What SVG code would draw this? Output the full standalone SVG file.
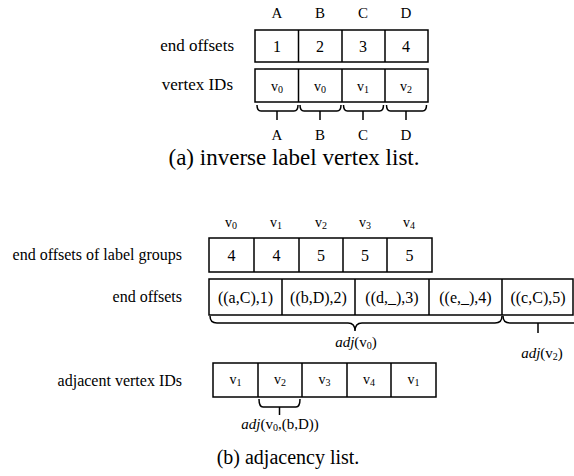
<svg xmlns="http://www.w3.org/2000/svg" width="574" height="476" viewBox="0 0 574 476" font-family="'Liberation Serif', 'Times New Roman', serif">
<style>
text, tspan { font-family: "Liberation Serif", "Times New Roman", serif; fill: #000; }
.lbl { font-size: 16px; text-anchor: end; }
.lbla { font-size: 17px; text-anchor: end; }
.cell { font-size: 16px; text-anchor: middle; }
.hdr { font-size: 15px; text-anchor: middle; }
.vv { font-size: 14px; text-anchor: middle; }
.sub { font-size: 10px; }
.capa { font-size: 23px; text-anchor: middle; }
.capb { font-size: 20px; text-anchor: middle; }
.adj { font-size: 15px; text-anchor: middle; }
.box { fill: #fff; stroke: #000; stroke-width: 1.5; }
.br { fill: none; stroke: #000; stroke-width: 1.5; }
</style>
<rect width="574" height="476" fill="#fff"/>

<g id="a-headers">
<text class="hdr" x="277" y="18">A</text>
<text class="hdr" x="320" y="18">B</text>
<text class="hdr" x="363" y="18">C</text>
<text class="hdr" x="406" y="18">D</text>
</g>
<g id="a-end-offsets">
<text class="lbla" x="234" y="51">end offsets</text>
<rect class="box" x="255" y="30" width="173" height="32"/>
<path class="br" d="M298.5,30V62M342,30V62M385,30V62"/>
<text class="cell" x="277" y="52">1</text>
<text class="cell" x="320" y="52">2</text>
<text class="cell" x="363" y="52">3</text>
<text class="cell" x="406" y="52">4</text>
</g>
<g id="a-vertex-ids">
<text class="lbla" x="233" y="90">vertex IDs</text>
<rect class="box" x="255" y="69" width="173" height="33"/>
<path class="br" d="M298.5,69V102M342,69V102M385,69V102"/>
<text class="vv" x="277" y="91">v<tspan class="sub" dy="2">0</tspan></text>
<text class="vv" x="320" y="91">v<tspan class="sub" dy="2">0</tspan></text>
<text class="vv" x="363" y="91">v<tspan class="sub" dy="2">1</tspan></text>
<text class="vv" x="406" y="91">v<tspan class="sub" dy="2">2</tspan></text>
</g>
<g id="a-footers">
<text class="hdr" x="277" y="140">A</text>
<text class="hdr" x="320" y="140">B</text>
<text class="hdr" x="363" y="140">C</text>
<text class="hdr" x="406" y="140">D</text>
</g>
<text id="cap-a" class="capa" x="294" y="165">(a) inverse label vertex list.</text>

<g id="b-headers">
<text class="vv" x="231" y="227">v<tspan class="sub" dy="2">0</tspan></text>
<text class="vv" x="276" y="227">v<tspan class="sub" dy="2">1</tspan></text>
<text class="vv" x="321" y="227">v<tspan class="sub" dy="2">2</tspan></text>
<text class="vv" x="365" y="227">v<tspan class="sub" dy="2">3</tspan></text>
<text class="vv" x="409" y="227">v<tspan class="sub" dy="2">4</tspan></text>
</g>
<g id="b-label-groups">
<text class="lbl" x="182" y="260">end offsets of label groups</text>
<rect class="box" x="209" y="238" width="223" height="34"/>
<path class="br" d="M254,238V272M299,238V272M343,238V272M387,238V272"/>
<text class="cell" x="231.5" y="261">4</text>
<text class="cell" x="276.5" y="261">4</text>
<text class="cell" x="321" y="261">5</text>
<text class="cell" x="365" y="261">5</text>
<text class="cell" x="409.5" y="261">5</text>
</g>
<g id="b-end-offsets">
<text class="lbl" x="182" y="302">end offsets</text>
<rect class="box" x="209" y="279" width="364" height="36"/>
<path class="br" d="M282,279V315M355,279V315M429,279V315M502,279V315"/>
<text class="cell" x="245.5" y="303">((a,C),1)</text>
<text class="cell" x="318.5" y="303">((b,D),2)</text>
<text class="cell" x="392" y="303">((d,_),3)</text>
<text class="cell" x="465.5" y="303">((e,_),4)</text>
<text class="cell" x="538" y="303">((c,C),5)</text>
</g>
<g id="b-adjacent">
<text class="lbl" x="182" y="386">adjacent vertex IDs</text>
<rect class="box" x="213" y="363" width="223" height="34"/>
<path class="br" d="M258,363V397M302,363V397M347,363V397M391,363V397"/>
<text class="vv" x="235.5" y="384">v<tspan class="sub" dy="2">1</tspan></text>
<text class="vv" x="280" y="384">v<tspan class="sub" dy="2">2</tspan></text>
<text class="vv" x="324.5" y="384">v<tspan class="sub" dy="2">3</tspan></text>
<text class="vv" x="369" y="384">v<tspan class="sub" dy="2">4</tspan></text>
<text class="vv" x="413.5" y="384">v<tspan class="sub" dy="2">1</tspan></text>
</g>

<g id="connectors">
<path class="br" d="M257,105q0,6 4,6H294q4,0 4,-6M277,111V120"/>
<path class="br" d="M300,105q0,6 4,6H337q4,0 4,-6M320,111V120"/>
<path class="br" d="M343.5,105q0,6 4,6H379.5q4,0 4,-6M363,111V120"/>
<path class="br" d="M386.5,105q0,6 4,6H422.5q4,0 4,-6M406,111V120"/>
<path class="br" d="M210,316Q210,323 217,323H348Q355,323 355,331Q355,323 362,323H495Q502,323 502,316"/>
<path class="br" d="M503,316Q503,323 510,323H574M538,323V333"/>
<path class="br" d="M259,399Q259,407 263,407H296Q300,407 300,399M279.5,407V415"/>
</g>
<text class="adj" x="356" y="347"><tspan font-style="italic">adj</tspan>(v<tspan class="sub" dy="2">0</tspan><tspan dy="-2">)</tspan></text>
<text class="adj" x="542" y="358"><tspan font-style="italic">adj</tspan>(v<tspan class="sub" dy="2">2</tspan><tspan dy="-2">)</tspan></text>
<text class="adj" x="280" y="429" font-size="16.5px"><tspan font-style="italic">adj</tspan>(v<tspan class="sub" dy="2">0</tspan><tspan dy="-2">,(b,D))</tspan></text>
<text id="cap-b" class="capb" x="288" y="464">(b) adjacency list.</text>
</svg>
